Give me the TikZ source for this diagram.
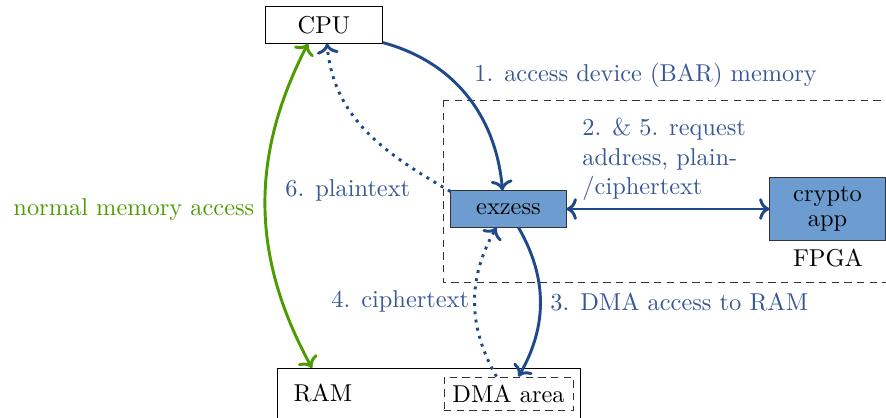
\documentclass[tikz,border=0pt]{standalone}
\usetikzlibrary{arrows.meta,calc}
\definecolor{lblue}{RGB}{108,156,208}
\definecolor{dblue}{RGB}{31,73,140}
\definecolor{tblue}{RGB}{55,88,150}
\definecolor{mgreen}{RGB}{76,155,0}
\begin{document}
\begin{tikzpicture}[x=0.41pt,y=0.41pt,
  plainbox/.style={draw, fill=white, inner sep=0pt, minimum width=47.6pt, minimum height=14.8pt},
  bluebox/.style={draw=black!80, fill=lblue, inner sep=0pt, minimum width=47.2pt, minimum height=14.8pt},
  lbl/.style={inner sep=0pt, text=tblue},
  barr/.style={draw=dblue, line width=1.2pt, ->},
  darr/.style={draw=dblue, line width=1.2pt, dash pattern=on 1.2pt off 2.2pt, ->},
  garr/.style={draw=mgreen, line width=1.2pt, <->},
  dashbox/.style={draw=black!80, dash pattern=on 3pt off 2.2pt, line width=0.4pt}]
\useasboundingbox (0,0) rectangle (886,418);
% FPGA region
\draw[dashbox] (443,318) rectangle (892,136);
\node[inner sep=0pt] (fpga) at (828,160) {FPGA};
% RAM
\draw (277,50) rectangle (580,-10);
\node[inner sep=0pt] (ram) at (323,25) {RAM};
\node[dashbox, inner sep=0pt, minimum width=52.9pt, minimum height=13.9pt] (dma) at (508.5,24) {DMA area};
% nodes
\node[plainbox] (cpu) at (324,393) {CPU};
\node[bluebox] (exz) at (508.5,209) {exzess};
\node[bluebox, minimum height=26.2pt, align=center] (crypto) at (827.5,209) {crypto\\[-2pt]app};
% connectors
\draw[barr] ($(cpu.south east)+(0,1)$) to[out=-15,in=95] ($(exz.north)+(-6,0)$);
\draw[darr] ($(exz.north west)+(0,-1)$) to[out=150,in=-85] ($(cpu.south)+(3,0)$);
\draw[barr] ($(exz.south)+(10,0)$) to[bend left=30] ($(dma.north)+(10,0)$);
\draw[darr] ($(dma.north)+(-12,0)$) to[bend left=30] ($(exz.south)+(-12,0)$);
\draw[barr, <->] (exz.east) -- (crypto.west);
\draw[garr] ($(cpu.south)+(-16,0)$) to[bend right=28] (312,50);
% labels
\node[lbl, anchor=west] (l1) at (474,343) {1. access device (BAR) memory};
\node[lbl, anchor=north west, align=left] (l2) at (582,300) {2. \& 5. request\\address, plain-\\/ciphertext};
\node[lbl, anchor=west] (l6) at (285,228) {6. plaintext};
\node[lbl, anchor=west] (l3) at (550,116) {3. DMA access to RAM};
\node[lbl, anchor=west] (l4) at (331,117) {4. ciphertext};
\node[inner sep=0pt, text=mgreen, anchor=west] (lg) at (13,208) {normal memory access};
\end{tikzpicture}
\end{document}
